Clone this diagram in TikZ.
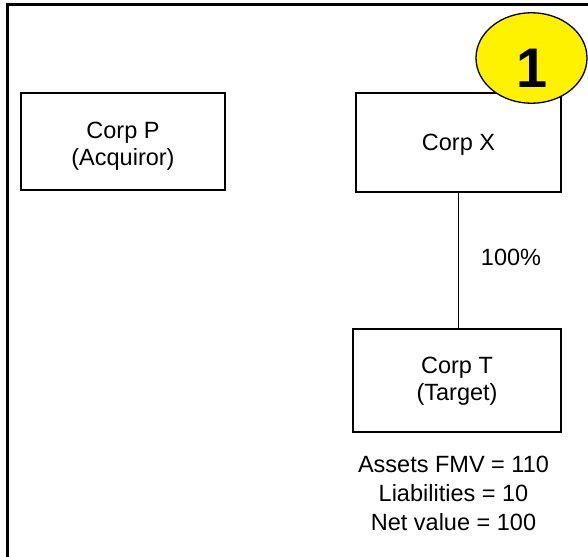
\documentclass[tikz,border=0pt]{standalone}
\usepackage{fontspec}
\setmainfont{Liberation Sans}
\usetikzlibrary{shapes.geometric}
\begin{document}
\begin{tikzpicture}[x=1pt,y=-1pt,
  box/.style={draw=black, line width=1.8pt, rectangle, inner sep=0pt},
  lbl/.style={font=\fontsize{23.5}{27}\selectfont, align=center, inner sep=0pt},
  conn/.style={draw=black, line width=1.3pt},
  badge/.style={ellipse, draw=black, fill=yellow, line width=1.3pt, inner sep=0pt}]
\clip (0,0) rectangle (588,556);
\fill[white] (0,0) rectangle (588,556);
\draw[line width=3pt] (7,4.5) rectangle (620,600);
% Corp P
\node[box, minimum width=204pt, minimum height=97.5pt] (P) at (123,141.4) {};
\node[lbl] (Ptxt) at (123,146.4) {Corp P\\(Acquiror)};
% Corp X
\node[box, minimum width=205pt, minimum height=99pt] (X) at (458.5,142.5) {};
\node[lbl] (Xtxt) at (458.5,144.5) {Corp X};
% Corp T
\node[box, minimum width=208pt, minimum height=103pt] (T) at (457,380.5) {};
\node[lbl] (Ttxt) at (457,381.5) {Corp T\\(Target)};
% connector
\draw[conn] (X.south) -- (X.south |- T.north);
\node[lbl] (pct) at (511,257.5) {100\%};
% values
\node[lbl, font=\fontsize{23.5}{29}\selectfont] (vals) at (453.5,493.7) {Assets FMV = 110\\Liabilities = 10\\Net value = 100};
% badge
\node[badge, minimum width=111pt, minimum height=90.5pt] (B) at (531.5,58) {};
\node[font=\bfseries\fontsize{55.8}{60}\selectfont, inner sep=0pt, anchor=base] (one) at (532.5,88) {1};
\end{tikzpicture}
\end{document}
